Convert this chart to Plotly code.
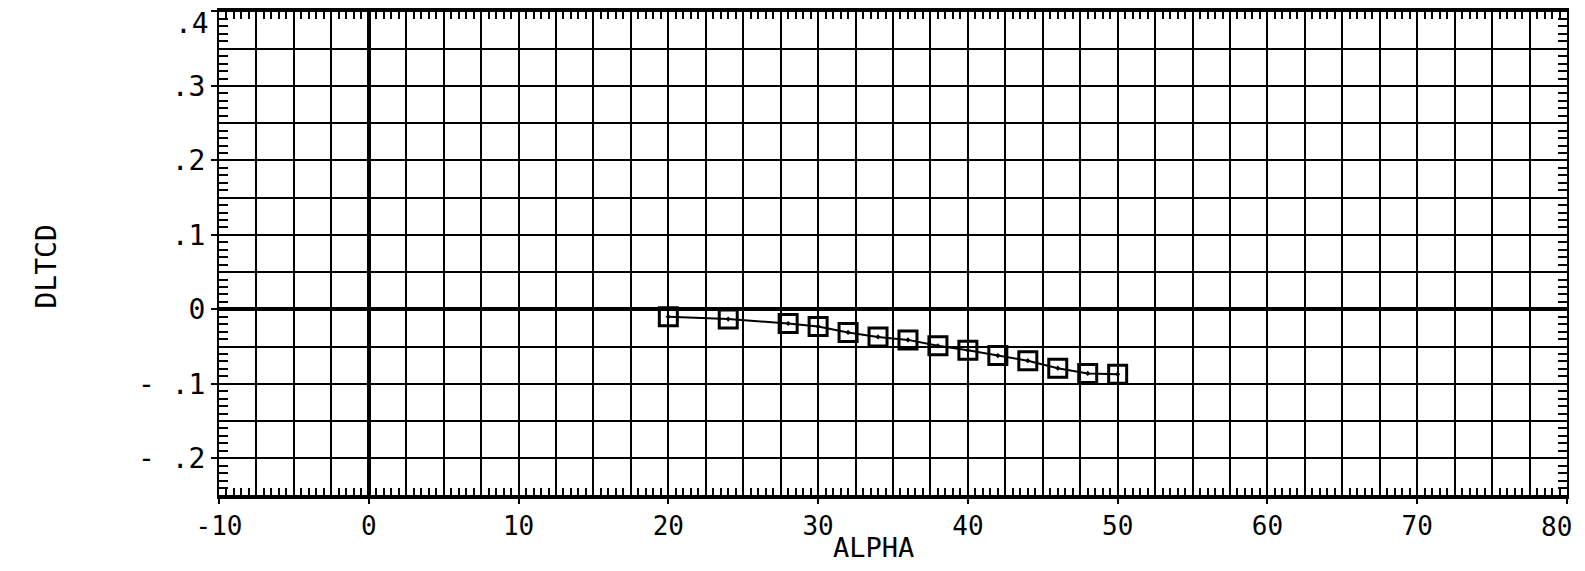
import plotly.graph_objects as go

alpha = [20, 24, 28, 30, 32, 34, 36, 38, 40, 42, 44, 46, 48, 50]
dltcd = [-0.010, -0.013, -0.019, -0.023, -0.031, -0.037, -0.041, -0.049,
         -0.055, -0.062, -0.069, -0.079, -0.086, -0.087]

x_ticks = [-10, 0, 10, 20, 30, 40, 50, 60, 70, 80]
x_labels = ["-10", "0", "10", "20", "30", "40", "50", "60", "70", "80"]
y_ticks = [-0.2, -0.1, 0, 0.1, 0.2, 0.3, 0.4]
y_labels = ["- .2", "- .1", "0", ".1", ".2", ".3", ".4"]

XR = [-10, 80]
YR = [-0.252, 0.402]
FONT = "DejaVu Sans Mono"

# page body has an 8px margin; compensate so the plot lands where the reference's does
W, H = 1577, 555
L, R, T, B = 211, 18, 2, 66
PW, PH = W - L - R, H - T - B

fig = go.Figure()
fig.add_trace(go.Scatter(
    x=alpha, y=dltcd, mode="lines+markers",
    line=dict(color="black", width=2),
    marker=dict(symbol="square-open-dot", size=18, color="black",
                line=dict(color="black", width=3)),
    showlegend=False))
fig.add_trace(go.Scatter(x=[], y=[], xaxis="x2", yaxis="y2", showlegend=False))

grid = dict(showgrid=True, gridcolor="black", gridwidth=2, automargin=False,
            ticklabeloverflow="allow")
fig.update_layout(
    width=W, height=H,
    margin=dict(l=L, r=R, t=T, b=B),
    paper_bgcolor="white", plot_bgcolor="white",
    font=dict(family=FONT, size=26, color="black"),
    xaxis=dict(range=XR, tickvals=x_ticks, ticktext=x_labels[:-1] + [""],
               ticks="outside", ticklen=5, tickwidth=2, tickcolor="black",
               zeroline=True, zerolinecolor="black", zerolinewidth=4,
               showline=True, linecolor="black", linewidth=2, mirror=True,
               minor=dict(dtick=2.5, tick0=0, showgrid=True, gridcolor="black", gridwidth=2),
               tickfont=dict(size=26), **grid),
    yaxis=dict(range=YR, tickvals=y_ticks, ticktext=y_labels[:-1] + [""],
               ticks="outside", ticklen=6, tickwidth=2, tickcolor="black",
               zeroline=True, zerolinecolor="black", zerolinewidth=4,
               showline=True, linecolor="black", linewidth=2, mirror=True,
               minor=dict(dtick=0.05, tick0=0, showgrid=True, gridcolor="black", gridwidth=2),
               tickfont=dict(size=28), **grid),
    xaxis2=dict(range=XR, overlaying="x", side="bottom", anchor="y",
                dtick=0.5, tick0=0, ticks="inside", ticklen=9, tickwidth=2,
                tickcolor="black", showticklabels=False, showgrid=False,
                zeroline=False, mirror="ticks", showline=False, automargin=False),
    yaxis2=dict(range=YR, overlaying="y", side="left", anchor="x",
                dtick=0.01, tick0=0, ticks="inside", ticklen=9, tickwidth=2,
                tickcolor="black", showticklabels=False, showgrid=False,
                zeroline=False, mirror="ticks", showline=False, automargin=False),
    annotations=[
        # end labels sit slightly inside their ticks, as on the original plotter output
        dict(text=y_labels[-1], xref="paper", yref="y", x=0, y=y_ticks[-1],
             xanchor="right", yanchor="middle", xshift=-8, yshift=-12,
             showarrow=False, font=dict(size=28)),
        dict(text=x_labels[-1], xref="x", yref="paper", x=x_ticks[-1], y=0,
             xanchor="center", yanchor="top", xshift=-11, yshift=-13,
             showarrow=False, font=dict(size=26)),
        dict(text="DLTCD", textangle=-90, xref="paper", yref="paper",
             x=(27 - 8 - L) / PW, y=1 - (267 - 8 - T) / PH, showarrow=False,
             font=dict(size=28)),
        dict(text="ALPHA", xref="paper", yref="paper", x=(873 - 8 - L) / PW,
             y=-(547 - 497) / PH, yanchor="middle", showarrow=False,
             font=dict(size=27)),
    ],
)
fig.write_html("out.html")
